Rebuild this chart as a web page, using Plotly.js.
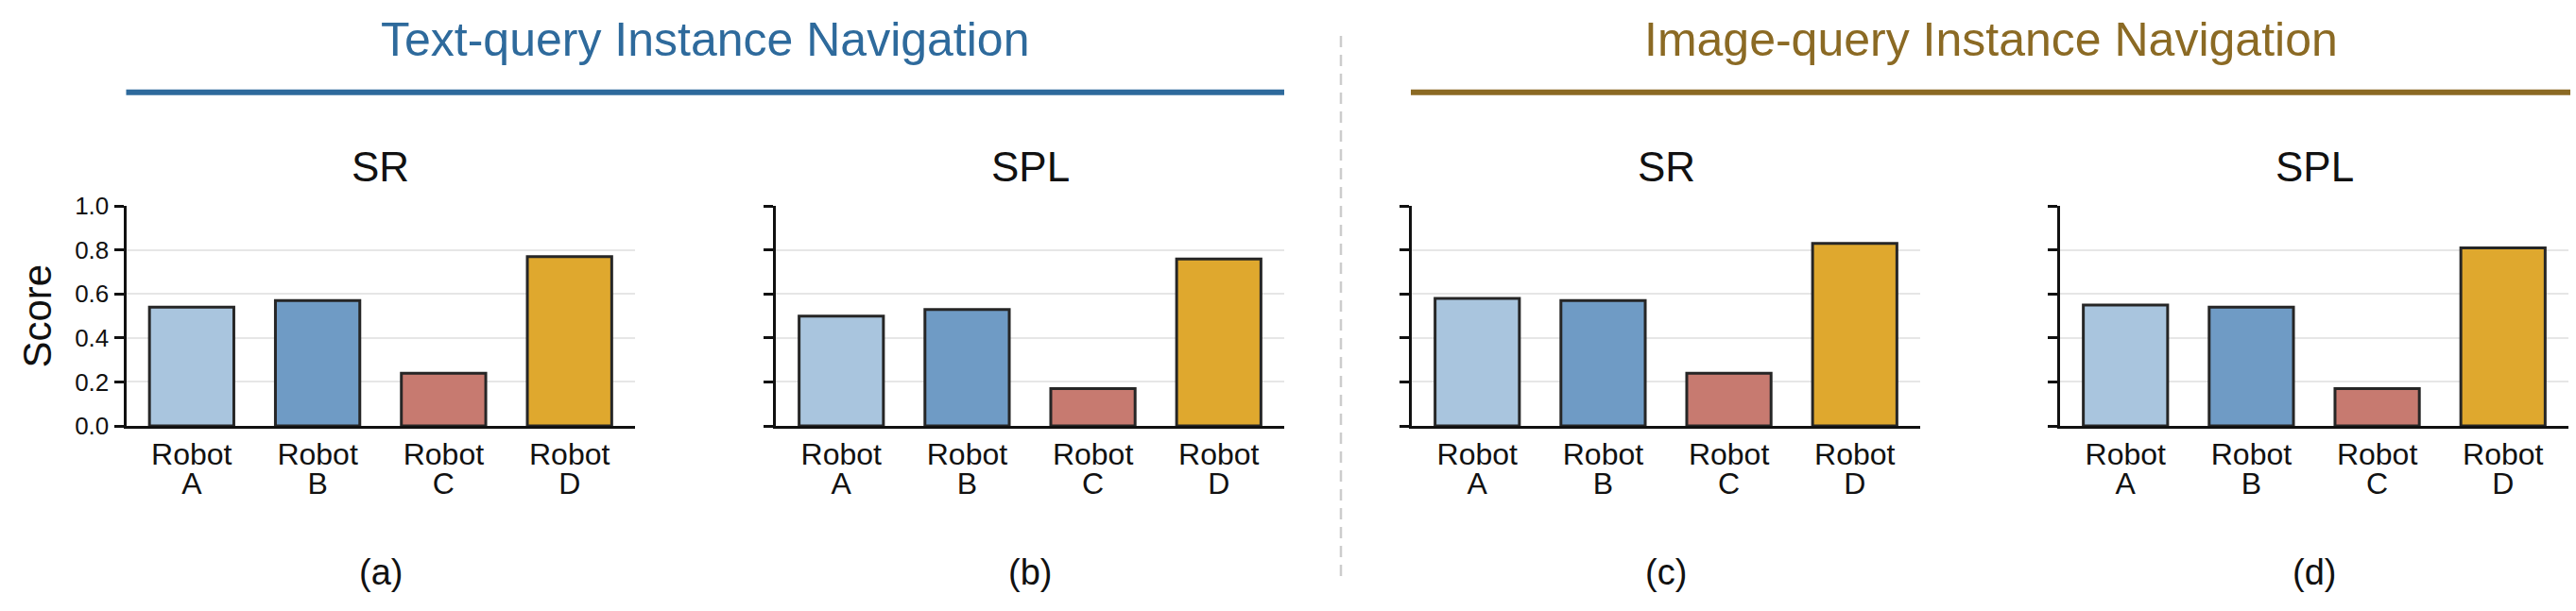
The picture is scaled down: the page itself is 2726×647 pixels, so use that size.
<!DOCTYPE html>
<html>
<head>
<meta charset="utf-8">
<title>Instance Navigation</title>
<script src="https://cdn.plot.ly/plotly-3.0.1.min.js"></script>
<style>
    html, body { margin: 0; padding: 0; background: #ffffff; }
    #chart { width: 2726px; height: 647px; }
</style>
</head>
<body>
<div id="chart"></div>
<script>
// Chart data
const robots = ['Robot A', 'Robot B', 'Robot C', 'Robot D'];
const robotTickLines = [['Robot', 'A'], ['Robot', 'B'], ['Robot', 'C'], ['Robot', 'D']];
const robotColors = ['#a9c5de', '#6f9bc5', '#c77a70', '#dfa82e'];

const textSR = [0.54, 0.57, 0.24, 0.77];
const textSPL = [0.50, 0.53, 0.17, 0.76];
const imageSR = [0.58, 0.57, 0.24, 0.83];
const imageSPL = [0.55, 0.54, 0.17, 0.81];

const panelTitles = ['SR', 'SPL', 'SR', 'SPL'];
const panelLetters = ['(a)', '(b)', '(c)', '(d)'];
const groupTitles = ['Text-query Instance Navigation', 'Image-query Instance Navigation'];
const groupColors = ['#2e6a9c', '#8b6a24'];
const scoreTicks = [0, 0.2, 0.4, 0.6, 0.8, 1.0];

(function() {
    'use strict';

    const W = 2726;
    const H = 647;
    const FONT = '"Liberation Sans", Arial, Helvetica, sans-serif';

    // pixel helpers -> paper fractions
    const px = v => v / W;
    const py = v => (H - v) / H;

    // panel x extents in pixels (left, right)
    const panelX = [[133.5, 672], [821, 1359], [1494, 2032], [2180, 2718]];
    const yDomain = [py(451), py(218.3)];
    const series = [textSR, textSPL, imageSR, imageSPL];

    // two-line tick labels: tight line spacing, bigger glyphs
    const tickText = robotTickLines.map(lines =>
        lines.map(s => '<span style="font-size:32px">' + s + '</span>').join('<br>')
    );

    const data = [];
    const layout = {
        width: W,
        height: H,
        margin: { l: 0, r: 0, t: 0, b: 0 },
        paper_bgcolor: '#ffffff',
        plot_bgcolor: 'rgba(0,0,0,0)',
        showlegend: false,
        bargap: 0.33,
        font: { family: FONT, color: '#111111' },
        annotations: [],
        shapes: []
    };

    series.forEach((values, i) => {
        const n = i + 1;
        const sfx = n === 1 ? '' : String(n);

        data.push({
            type: 'bar',
            x: robots,
            y: values,
            xaxis: 'x' + sfx,
            yaxis: 'y' + sfx,
            marker: {
                color: robotColors,
                line: { color: '#262626', width: 3 }
            },
            hoverinfo: 'x+y'
        });

        layout['xaxis' + sfx] = {
            domain: [px(panelX[i][0]), px(panelX[i][1])],
            anchor: 'y' + sfx,
            type: 'category',
            range: [-0.52, 3.52],
            tickvals: robots,
            ticktext: tickText,
            tickfont: { size: 23.5, color: '#111111' },
            ticklabelstandoff: 10,
            ticks: '',
            showgrid: false,
            zeroline: false,
            showline: true,
            linecolor: '#111111',
            linewidth: 3,
            fixedrange: true
        };

        layout['yaxis' + sfx] = {
            domain: yDomain,
            anchor: 'x' + sfx,
            range: [0, 1],
            tickvals: scoreTicks,
            tickformat: '.1f',
            showticklabels: n === 1,
            tickfont: { size: 26, color: '#111111' },
            ticks: 'outside',
            ticklen: 10,
            tickwidth: 3,
            tickcolor: '#111111',
            showline: true,
            linecolor: '#111111',
            linewidth: 3,
            showgrid: true,
            gridcolor: '#e6e6e6',
            gridwidth: 2,
            zeroline: false,
            fixedrange: true
        };

        const cx = px((panelX[i][0] + panelX[i][1]) / 2);

        // subplot title (SR / SPL)
        layout.annotations.push({
            text: panelTitles[i],
            xref: 'paper', yref: 'paper',
            x: cx, y: py(176),
            xanchor: 'center', yanchor: 'middle',
            showarrow: false,
            font: { size: 44, color: '#111111' }
        });

        // panel letter below
        layout.annotations.push({
            text: panelLetters[i],
            xref: 'paper', yref: 'paper',
            x: cx, y: py(606),
            xanchor: 'center', yanchor: 'middle',
            showarrow: false,
            font: { size: 38, color: '#111111' }
        });
    });

    layout.yaxis.title = {
        text: 'Score',
        font: { size: 42, color: '#111111' },
        standoff: 12
    };

    // group headers with underline
    const groupSpan = [[133.5, 1359], [1493, 2720]];
    groupTitles.forEach((title, g) => {
        layout.annotations.push({
            text: title,
            xref: 'paper', yref: 'paper',
            x: px((groupSpan[g][0] + groupSpan[g][1]) / 2),
            y: py(42),
            xanchor: 'center', yanchor: 'middle',
            showarrow: false,
            font: { size: 50, color: groupColors[g] }
        });
        layout.shapes.push({
            type: 'line',
            xref: 'paper', yref: 'paper',
            x0: px(groupSpan[g][0]), x1: px(groupSpan[g][1]),
            y0: py(97.7), y1: py(97.7),
            line: { color: groupColors[g], width: 6 }
        });
    });

    // dashed divider between the two groups
    layout.shapes.push({
        type: 'line',
        xref: 'paper', yref: 'paper',
        x0: px(1419), x1: px(1419),
        y0: py(38), y1: py(610),
        line: { color: '#cccccc', width: 2.5, dash: '12px,8px' }
    });

    const config = { displayModeBar: false, staticPlot: true };

    Plotly.newPlot('chart', data, layout, config);
})();
</script>
</body>
</html>
